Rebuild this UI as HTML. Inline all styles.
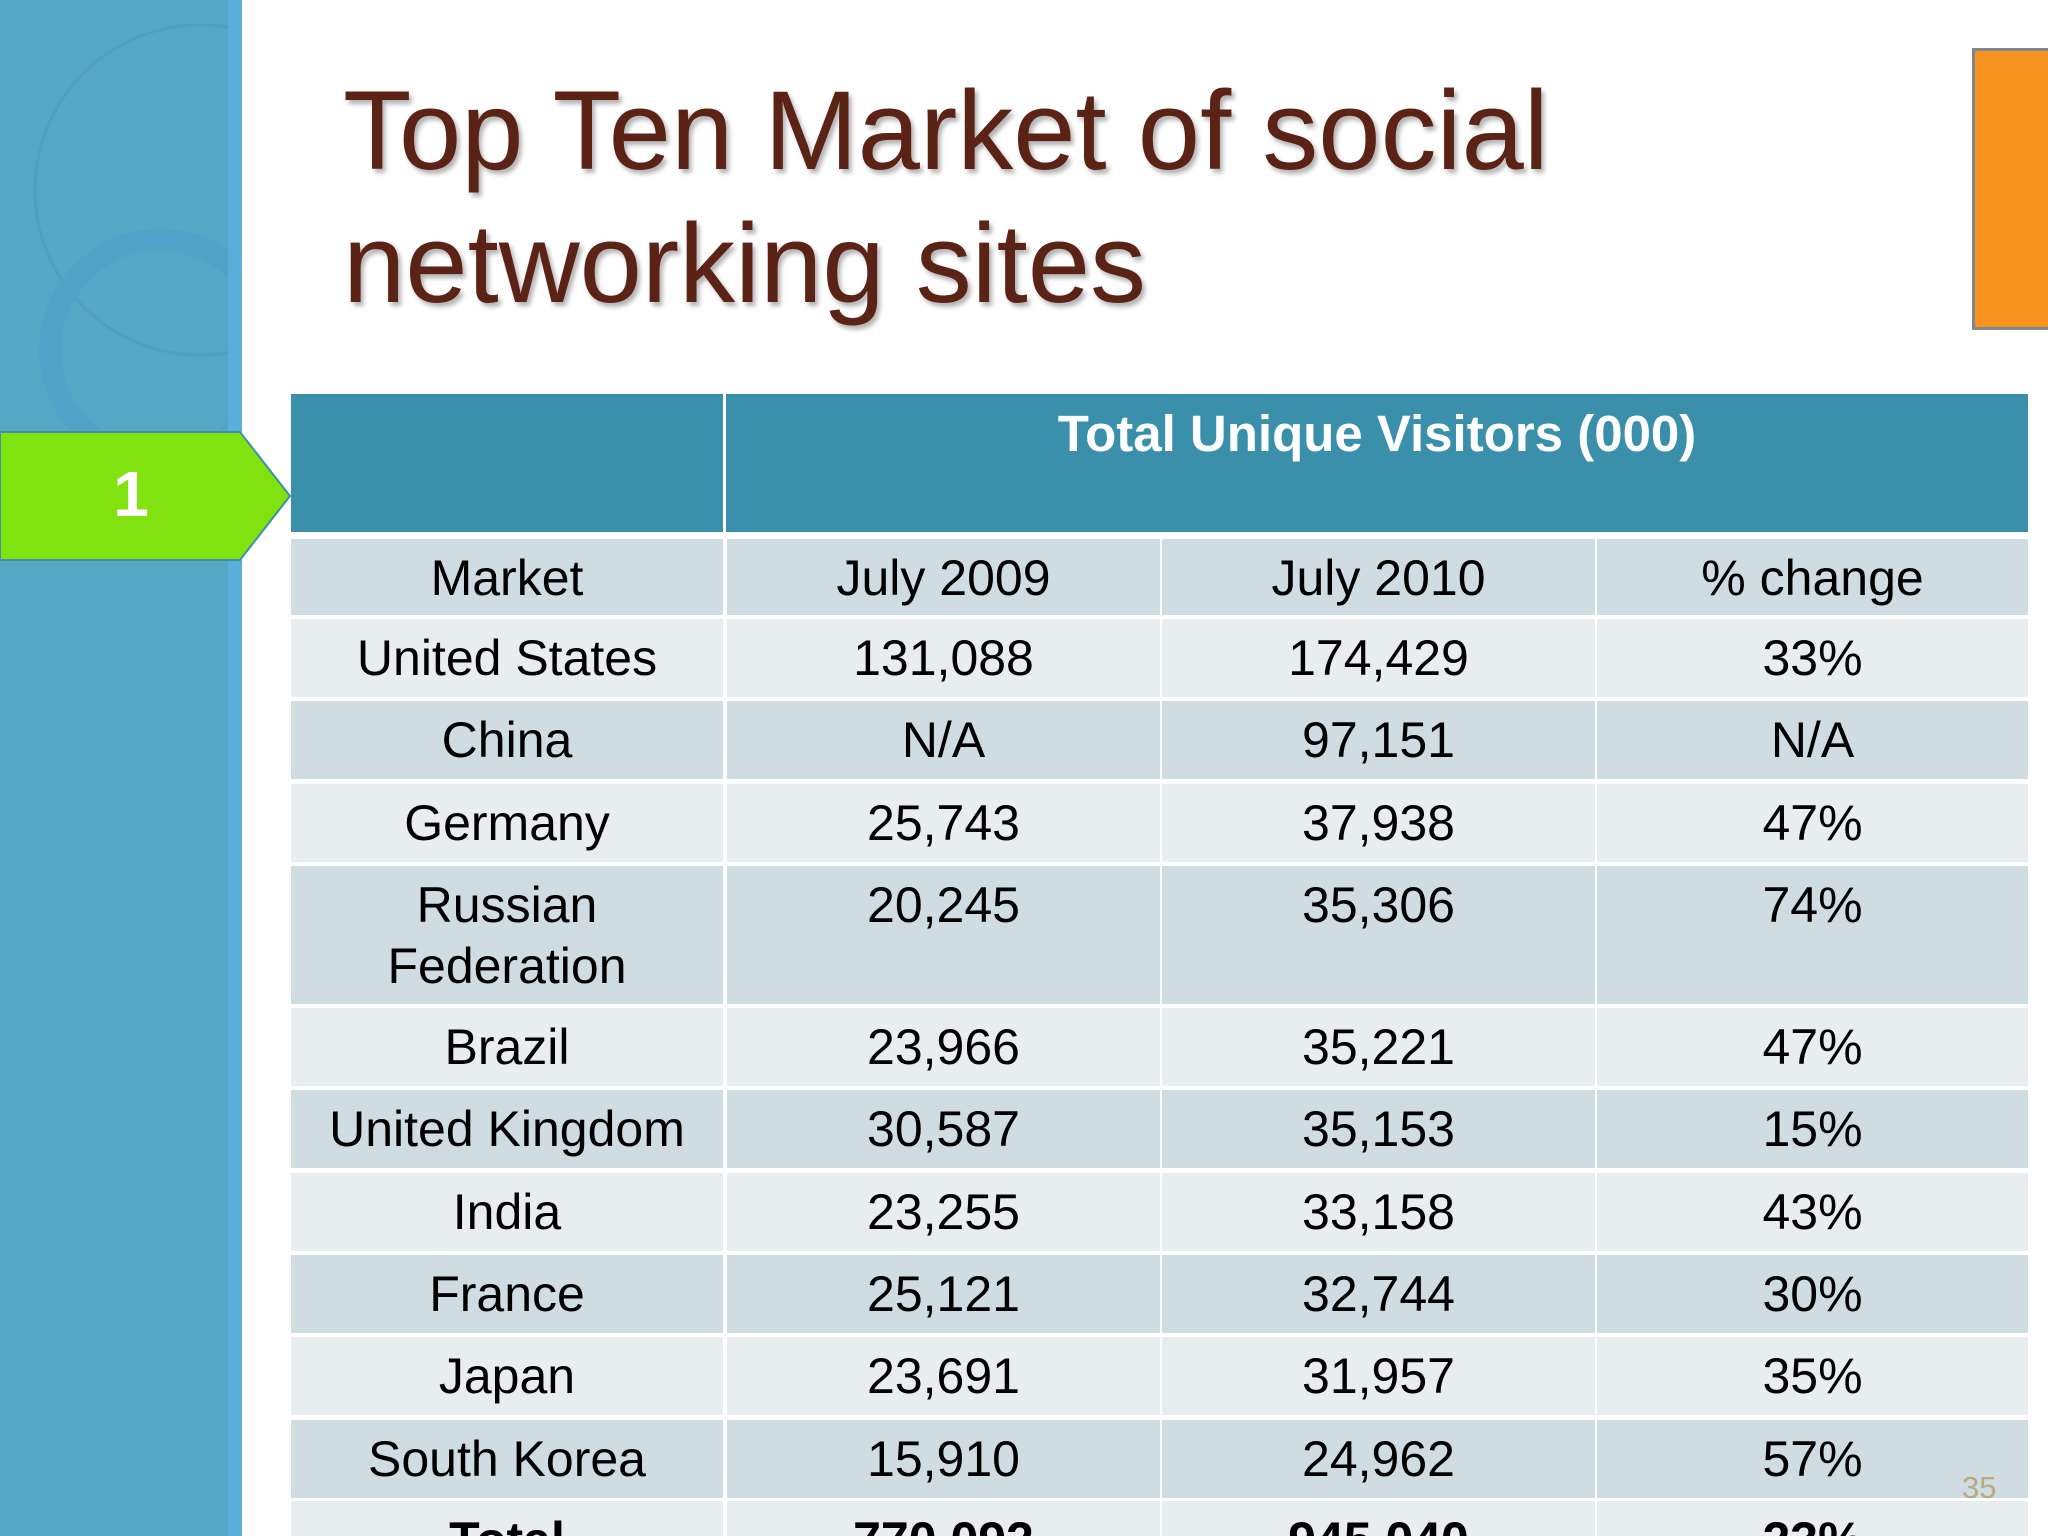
<!DOCTYPE html>
<html style="width:2048px;height:1536px;overflow:hidden"><head><meta charset="utf-8">
<style>
html,body{margin:0;width:2048px;height:1536px;overflow:hidden}
body{background:#fff;position:relative;font-family:"Liberation Sans",sans-serif}
.abs{position:absolute}
.cell{position:absolute;box-sizing:border-box;text-align:center;color:#000;font-size:50px;line-height:61px}
</style></head><body>
<div class="abs" style="left:0;top:0;width:242px;height:1536px;background:#55a7c5"></div>
<div class="abs" style="left:228px;top:0;width:14px;height:1536px;background:#5aafda"></div>
<svg class="abs" style="left:0;top:0" width="228" height="430">
<circle cx="200" cy="190" r="165" fill="none" stroke="#4f9fbd" stroke-width="3"/>
<circle cx="160" cy="350" r="110" fill="none" stroke="#52a2c8" stroke-width="22"/>
</svg>
<svg class="abs" style="left:0;top:428px" width="300" height="140">
<polygon points="0,4 240,4 290,68 240,132 0,132" fill="#80e20e" stroke="#3f8fa8" stroke-width="2"/>
<text x="131" y="88" fill="#fff" font-family="Liberation Sans" font-weight="bold" font-size="64" text-anchor="middle">1</text>
</svg>
<div class="abs" style="left:343px;top:64px;font-size:112px;line-height:133px;color:#5b2216;text-shadow:3px 4px 5px rgba(0,0,0,0.3)">Top Ten Market of social<br>networking sites</div>
<div class="abs" style="left:1972px;top:48px;width:80px;height:282px;background:#f7931e;border:3px solid #7d8890;box-sizing:border-box"></div>
<div class="abs" style="left:291px;top:394px;width:1737px;height:138px;background:#3a8fab"></div>
<div class="abs" style="left:723px;top:394px;width:3px;height:138px;background:#fff"></div>
<div class="abs" style="left:726px;top:404px;width:1302px;text-align:center;color:#fff;font-weight:bold;font-size:51px">Total Unique Visitors (000)</div>
<div id="tbl"></div>
<div class="abs" style="left:1962px;top:1470px;font-size:31px;color:#b8ab80">35</div>
<script>
const markets=["Market","United States","China","Germany","Russian<br>Federation","Brazil","United Kingdom","India","France","Japan","South Korea","Total"];
const july2009=["July 2009","131,088","N/A","25,743","20,245","23,966","30,587","23,255","25,121","23,691","15,910","770,092"];
const july2010=["July 2010","174,429","97,151","37,938","35,306","35,221","35,153","33,158","32,744","31,957","24,962","945,040"];
const pctChange=["% change","33%","N/A","47%","74%","47%","15%","43%","30%","35%","57%","23%"];
const cols=[291,725,1160,1595,2028];
const tops=[539,619,701,784,866,1008,1090,1173,1255,1337,1420,1501];
const heights=[76,78,78,78,138,78,78,78,78,78,78,35];
const tbl=document.getElementById('tbl');
const colsData=[markets,july2009,july2010,pctChange];
for(let r=0;r<markets.length;r++){
  const bg=(r%2===0)?'#cfdde3':'#e8edf0';
  for(let c=0;c<4;c++){
    const d=document.createElement('div');
    d.className='cell';
    
    
    d.style.left=(cols[c]+(c>0?2:0))+'px';
    d.style.width=(cols[c+1]-cols[c]-2)+'px';
    d.style.top=tops[r]+'px';
    d.style.height=heights[r]+'px';
    d.style.overflow='hidden';
    d.style.background=bg;
    d.style.paddingTop='9px';
    if(r===11) d.style.fontWeight='bold';
    d.innerHTML=colsData[c][r];
    tbl.appendChild(d);
  }
}
</script>
</body></html>
